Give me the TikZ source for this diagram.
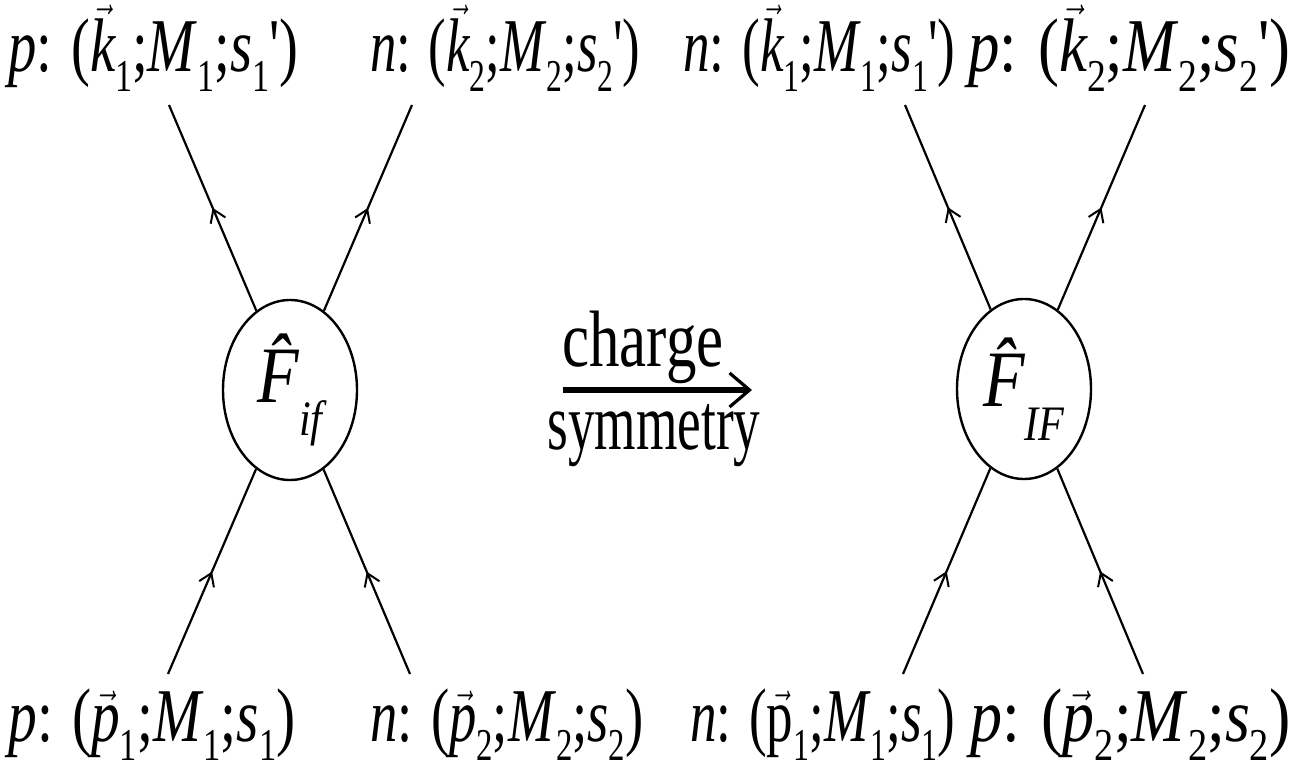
\documentclass[tikz,border=0pt]{standalone}
\usepackage{fontspec}
\setmainfont{Liberation Serif}
\usetikzlibrary{arrows.meta,decorations.markings,shapes.geometric}
\newcommand\sbx[1]{\raisebox{-0.26em}{\upshape\scalebox{0.6}{#1}}}
\newcommand\vk[1]{\ensuremath{\vec{\mbox{\itshape #1}}}}
\newcommand\vup[1]{\ensuremath{\vec{\mbox{\upshape #1}}}}
\newcommand\pr{\textquotesingle}
\newcommand\fitw[2]{\resizebox{#1}{\height}{#2}}
\tikzset{
  lbl/.style={anchor=base west, inner sep=0pt, font=\fontsize{38pt}{40pt}\selectfont},
  cs/.style={anchor=base west, inner sep=0pt, font=\fontsize{40pt}{44pt}\selectfont},
  blob/.style={ellipse, draw, line width=1.2pt, minimum width=67pt, minimum height=90pt, inner sep=0pt,
     font=\fontsize{40pt}{44pt}\selectfont},
  leg/.style={line width=1.1pt, decoration={markings, mark=at position 0.5 with {\arrow{Straight Barb[length=6pt,width=8pt,line width=1pt]}}}, postaction=decorate},
}
\begin{document}
\begin{tikzpicture}[x=0.5pt,y=-0.5pt]
\useasboundingbox (0,0) rectangle (1310,769);
% blobs
\node[blob] (FL) at (290,390) {\scalebox{0.85}[1]{\itshape\^{F}\raisebox{-0.42em}{\scalebox{0.62}{if}}}};
\node[blob] (FR) at (1024,389) {\scalebox{0.85}[1]{\itshape\^{F}\raisebox{-0.42em}{\scalebox{0.62}{IF}}}};
% leg ends
\coordinate (LTL) at (169,105);
\coordinate (LTR) at (412,105);
\coordinate (LBL) at (168,674);
\coordinate (LBR) at (410,674);
\coordinate (RTL) at (905,105);
\coordinate (RTR) at (1145,105);
\coordinate (RBL) at (903,674);
\coordinate (RBR) at (1143,674);
\draw[leg] (FL) -- (LTL);
\draw[leg] (FL) -- (LTR);
\draw[leg] (LBL) -- (FL);
\draw[leg] (LBR) -- (FL);
\draw[leg] (FR) -- (RTL);
\draw[leg] (FR) -- (RTR);
\draw[leg] (RBL) -- (FR);
\draw[leg] (RBR) -- (FR);
% top labels
\node[lbl] (t1) at (8,72) {\fitw{145pt}{\itshape p\upshape: (\vk{k}\sbx{1};\textit{M}\sbx{1};\textit{s}\sbx{1}\pr)}};
\node[lbl] (t2) at (370,72) {\fitw{135pt}{\itshape n\upshape: (\vk{k}\sbx{2};\textit{M}\sbx{2};\textit{s}\sbx{2}\pr)}};
\node[lbl] (t3) at (683,72) {\fitw{136pt}{\itshape n\upshape: (\vk{k}\sbx{1};\textit{M}\sbx{1};\textit{s}\sbx{1}\pr)}};
\node[lbl] (t4) at (968,72) {\fitw{161pt}{\itshape p\upshape: (\vk{k}\sbx{2};\textit{M}\sbx{2};\textit{s}\sbx{2}\pr)}};
% bottom labels
\node[lbl] (b1) at (8,741) {\fitw{143.5pt}{\itshape p\upshape: (\vk{p}\sbx{1};\textit{M}\sbx{1};\textit{s}\sbx{1})}};
\node[lbl] (b2) at (370,741) {\fitw{136.5pt}{\itshape n\upshape: (\vk{p}\sbx{2};\textit{M}\sbx{2};\textit{s}\sbx{2})}};
\node[lbl] (b3) at (690,741) {\fitw{132.5pt}{\itshape n\upshape: (\vup{p}\sbx{1};\textit{M}\sbx{1};\textit{s}\sbx{1})}};
\node[lbl] (b4) at (970,741) {\fitw{160pt}{\itshape p\upshape: (\vk{p}\sbx{2};\textit{M}\sbx{2};\textit{s}\sbx{2})}};
% charge symmetry
\node[cs] (ch) at (562,367) {\fitw{80.5pt}{charge}};
\node[cs] (sy) at (547,450) {\fitw{106.5pt}{symmetry}};
\coordinate (a1) at (563,390);
\coordinate (a2) at (752,390);
\draw[line width=3pt, -{Straight Barb[length=10pt,width=17pt,line width=1.6pt]}] (a1) -- (a2);
\end{tikzpicture}
\end{document}
